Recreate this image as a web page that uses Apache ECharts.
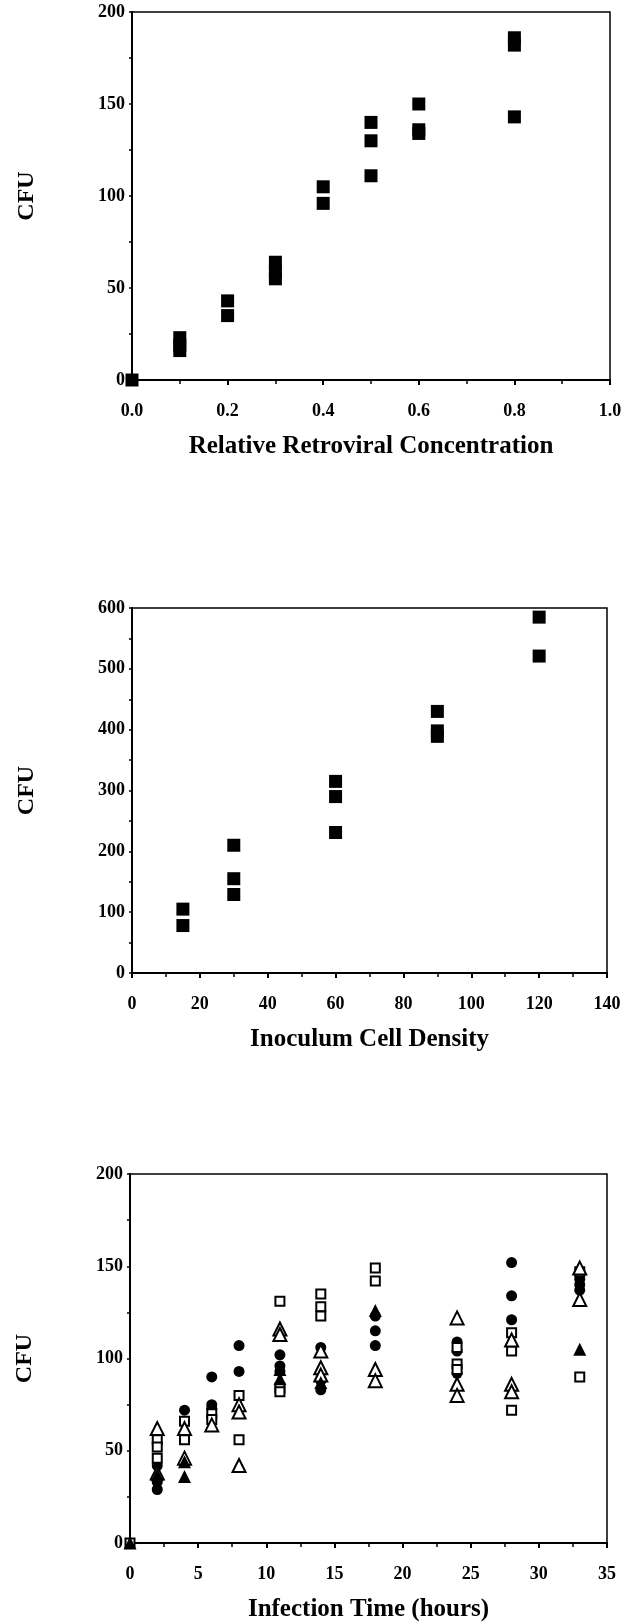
<!DOCTYPE html>
<html>
<head>
<meta charset="utf-8">
<title>CFU</title>
<script src="https://cdn.jsdelivr.net/npm/echarts@6/dist/echarts.min.js"></script>
<style>
html,body{margin:0;padding:0;background:#fff;}
#chart{width:636px;height:1624px;}
</style>
</head>
<body>
<div id="chart"></div>
<script>
// panel 1 : CFU vs relative retroviral concentration (replicates per level)
var concLevels = [0, 0.1, 0.2, 0.3, 0.4, 0.5, 0.6, 0.8];
var concCFU = [[0], [23, 19, 16], [43, 35], [64, 59, 55], [105, 96], [140, 130, 111], [150, 136, 134], [186, 182, 143]];

// panel 2 : CFU vs inoculum cell density
var densityLevels = [15, 30, 60, 90, 120];
var densityCFU = [[105, 78], [210, 155, 129], [315, 290, 231], [430, 398, 389], [585, 521]];

// panel 3 : CFU vs infection time, four marker groups
var timePoints = [0, 2, 4, 6, 8, 11, 14, 18, 24, 28, 33];
var circleCFU = [[], [42, 33, 29], [72], [90, 75, 73], [107, 93], [102, 96, 93], [106, 88, 83], [123, 115, 107], [109, 104, 92], [152, 134, 121], [143, 140, 137]];
var squareCFU = [[0], [56, 52, 46], [66, 56], [70, 67], [80, 56], [131, 84, 82], [135, 128, 123], [149, 142], [106, 97, 94], [114, 104, 72], [147, 90]];
var openTriCFU = [[], [62, 38], [62, 46], [64], [75, 71, 42], [116, 113], [104, 95, 91], [94, 88], [122, 86, 80], [110, 86, 82], [149, 132]];
var filledTriCFU = [[0], [37], [44, 36], [], [], [94, 89], [87], [126], [], [], [105]];

var pairUp = function (xs, ys) {
	var out = [];
	for (var i = 0; i < xs.length; i++) {
		for (var j = 0; j < ys[i].length; j++) {
			out.push([xs[i], ys[i][j]]);
		}
	}
	return out;
};

var FONT = '"Liberation Serif", "DejaVu Serif", serif';
var black = '#000';

var makeX = function (idx, min, max, step, name, fmt) {
	return {
		gridIndex: idx, type: 'value', min: min, max: max, interval: step,
		name: name, nameLocation: 'middle', nameGap: 54,
		nameTextStyle: {fontFamily: FONT, fontWeight: 'bold', fontSize: 25, color: black},
		axisLine: {onZero: false, lineStyle: {color: black, width: 2}},
		axisTick: {inside: false, length: 5, lineStyle: {color: black, width: 2}},
		minorTick: {show: true, splitNumber: 2, length: 4, lineStyle: {color: black, width: 1.5}},
		axisLabel: {margin: 22, fontFamily: FONT, fontWeight: 'bold', fontSize: 18, color: black, formatter: fmt},
		splitLine: {show: false}
	};
};
var makeY = function (idx, max, step) {
	return {
		gridIndex: idx, type: 'value', min: 0, max: max, interval: step,
		name: 'CFU', nameLocation: 'middle', nameGap: 93, nameRotate: 90,
		nameTextStyle: {fontFamily: FONT, fontWeight: 'bold', fontSize: 24, color: black},
		axisLine: {onZero: false, lineStyle: {color: black, width: 2}},
		axisTick: {inside: false, length: 3, lineStyle: {color: black, width: 1.5}},
		minorTick: {show: true, splitNumber: 2, length: 3, lineStyle: {color: black, width: 1.5}},
		axisLabel: {margin: 7, fontFamily: FONT, fontWeight: 'bold', fontSize: 18, color: black},
		splitLine: {show: false}
	};
};

var filled = {color: black, opacity: 1};
var hollow = {color: '#fff', borderColor: black, borderWidth: 2, opacity: 1};

var chart = echarts.init(document.getElementById('chart'), null, {renderer: 'canvas'});
chart.setOption({
	backgroundColor: '#fff',
	animation: false,
	grid: [
		{left: 132, top: 12, width: 478, height: 368, show: true, borderColor: black, borderWidth: 1.5},
		{left: 132, top: 608, width: 475, height: 365, show: true, borderColor: black, borderWidth: 1.5},
		{left: 130, top: 1174, width: 477, height: 369, show: true, borderColor: black, borderWidth: 1.5}
	],
	xAxis: [
		makeX(0, 0, 1, 0.2, 'Relative Retroviral Concentration', function (v) { return v.toFixed(1); }),
		makeX(1, 0, 140, 20, 'Inoculum Cell Density'),
		makeX(2, 0, 35, 5, 'Infection Time (hours)')
	],
	yAxis: [makeY(0, 200, 50), makeY(1, 600, 100), makeY(2, 200, 50)],
	series: [
		{type: 'scatter', xAxisIndex: 0, yAxisIndex: 0, symbol: 'rect', symbolSize: 13, itemStyle: filled, data: pairUp(concLevels, concCFU)},
		{type: 'scatter', xAxisIndex: 1, yAxisIndex: 1, symbol: 'rect', symbolSize: 13, itemStyle: filled, data: pairUp(densityLevels, densityCFU)},
		{type: 'scatter', xAxisIndex: 2, yAxisIndex: 2, symbol: 'circle', symbolSize: 11, itemStyle: filled, data: pairUp(timePoints, circleCFU)},
		{type: 'scatter', xAxisIndex: 2, yAxisIndex: 2, symbol: 'rect', symbolSize: 9, itemStyle: hollow, data: pairUp(timePoints, squareCFU)},
		{type: 'scatter', xAxisIndex: 2, yAxisIndex: 2, symbol: 'triangle', symbolSize: 13, itemStyle: hollow, data: pairUp(timePoints, openTriCFU)},
		{type: 'scatter', xAxisIndex: 2, yAxisIndex: 2, symbol: 'triangle', symbolSize: 13, itemStyle: filled, data: pairUp(timePoints, filledTriCFU)}
	]
});
</script>
</body>
</html>
